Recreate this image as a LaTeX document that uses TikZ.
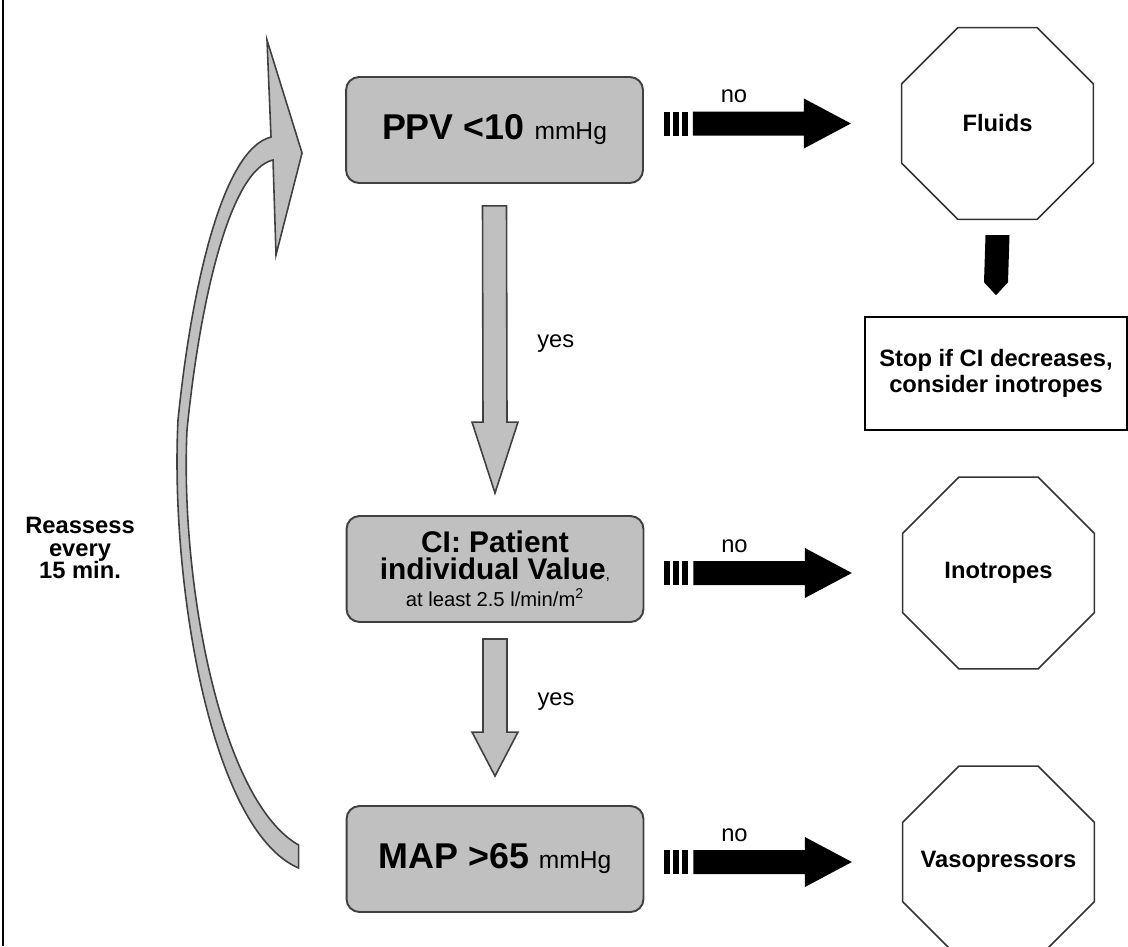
\documentclass[tikz,border=0pt]{standalone}
\usepackage{fontspec}
\setmainfont{Liberation Sans}
\usetikzlibrary{shapes.geometric,calc}
\definecolor{boxgray}{RGB}{192,192,192}
\definecolor{edgegray}{RGB}{64,64,64}

% black striped arrow from a box to a result
\newcommand{\stripearrow}[2]{%
  \coordinate (sa) at (#1 |- #2);
  \foreach \s in {20,29,38}
    \fill ($(sa)+(\s,-12)$) rectangle ($(sa)+(\s+6,12)$);
  \fill ($(sa)+(49,-12)$) -- ($(#2)+(-97,-12)$) -- ($(#2)+(-97,-25)$) -- ($(#2)+(-50,0)$)
     -- ($(#2)+(-97,25)$) -- ($(#2)+(-97,12)$) -- ($(sa)+(49,12)$) -- cycle;
  \node[tag] at ($(sa)+(90,-27)$) {no};}

% gray block arrow downwards
\newcommand{\grayarrow}[5]{%
  \coordinate (gt) at ($(#1)+(0,#3)$);
  \coordinate (gb) at ($(#2)+(0,-#4)$);
  \draw[grayarr] ($(gt)+(-12,0)$) -- ($(gb)+(-12,-#5)$) -- ($(gb)+(-23,-#5)$) -- (gb)
     -- ($(gb)+(23,-#5)$) -- ($(gb)+(12,-#5)$) -- ($(gt)+(12,0)$) -- cycle;
  \node[tag] at ($(gt)!0.5!(gb)+(61,-6)$) {yes};}

\begin{document}
\begin{tikzpicture}[x=0.02cm,y=-0.02cm,
    check/.style={draw=edgegray,line width=1.1pt,fill=boxgray,rounded corners=0.26cm,
      minimum width=5.94cm,minimum height=2.12cm,inner sep=0pt,
      font=\fontsize{20.4}{24}\selectfont\bfseries},
    stopsign/.style={regular polygon,regular polygon sides=8,draw=black!80,line width=0.9pt,
      minimum size=4.15cm,inner sep=0pt,
      label={[font=\fontsize{13.5}{16}\selectfont\bfseries]center:#1}},
    note/.style={draw,line width=0.9pt,minimum width=5.24cm,minimum height=2.26cm,
      align=center,font=\fontsize{13.5}{14.7}\selectfont\bfseries},
    tag/.style={font=\fontsize{13.5}{16}\selectfont},
    grayarr/.style={draw=edgegray,line width=0.9pt,fill=boxgray}]
  \useasboundingbox (0,0) rectangle (1128,946);
  \draw[line width=1.4pt] (3,0) -- (3,946);

  % checks
  \node[check] (ppv) at (494.5,130) {PPV <10 {\mdseries\fontsize{14}{16}\selectfont mmHg}};
  \node[check,align=center,font=\fontsize{17}{15.3}\selectfont\bfseries] (ci) at (495,569)
    {CI: Patient\\individual Value{\mdseries\fontsize{9}{9}\selectfont,}\\
     {\mdseries\fontsize{11.5}{14}\selectfont at least 2.5 l/min/m\textsuperscript{2}}};
  \node[check] (map) at (495,859) {MAP >65 {\mdseries\fontsize{14}{16}\selectfont mmHg}};

  % actions
  \node[stopsign=Fluids] (fluids) at (997.5,123.5) {};
  \node[note] (stop) at (996,373.5) {Stop if CI decreases,\\consider inotropes};
  \node[stopsign=Inotropes] (ino) at (998.5,573) {};
  \node[stopsign=Vasopressors] (vaso) at (998.5,862) {};
  \node[align=center,font=\fontsize{13.5}{13}\selectfont\bfseries] (re) at (80,548)
    {Reassess\\every\\15 min.};

  \stripearrow{ppv.east}{fluids.west}
  \stripearrow{ci.east}{ino.west}
  \stripearrow{map.east}{vaso.west}
  \grayarrow{ppv.south}{ci.north}{22}{22}{71}
  \grayarrow{ci.south}{map.north}{16}{29}{44}

  \coordinate (dt) at ($(fluids.south)+(0,15)$);
  \coordinate (db) at ($(stop.north)+(0,-21)$);
  \fill ($(dt)+(-12,0)$) -- ($(dt)+(12,0)$) -- ($(db)+(12,-13)$) -- (db) -- ($(db)+(-12,-13)$) -- cycle;

  % loop back
  \coordinate (taillo) at ($(map.west)+(-47,9)$);
  \coordinate (tailup) at ($(map.west)+(-47,-14)$);
  \coordinate (tip) at ($(ppv.west)+(-43,23)$);
  \draw[grayarr] (taillo) .. controls (210,830) and (170,580) .. (178,420)
    .. controls (190,300) and (220,150) .. (271,137) -- (267,40) -- (tip) -- (276,255)
    -- (273,160) .. controls (230,170) and (200,300) .. (187,430)
    .. controls (180,580) and (220,800) .. (tailup) -- cycle;
\end{tikzpicture}
\end{document}
